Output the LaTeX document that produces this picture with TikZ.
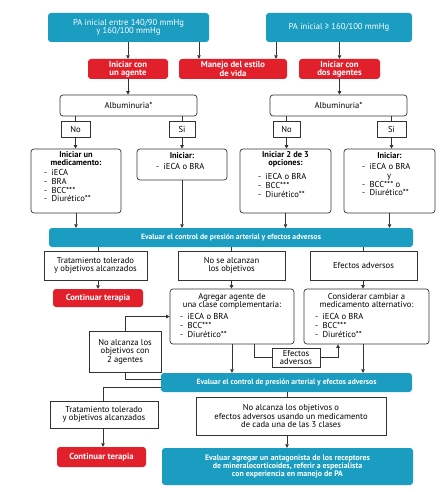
\documentclass[tikz,border=0pt]{standalone}
\usepackage{fontspec}
\setmainfont{PT Sans}
\usetikzlibrary{arrows.meta}
\definecolor{pblue}{HTML}{1B9DC1}
\definecolor{pred}{HTML}{E2202C}
\definecolor{pline}{HTML}{333333}
\begin{document}
\begin{tikzpicture}[x=1pt,y=-1pt,
  sz/.style 2 args={minimum width=#1pt, minimum height=#2pt},
  base/.style={font=\fontsize{8.6}{8.6}\selectfont, inner sep=1pt, align=center},
  bluebox/.style={base, fill=pblue, text=white, rounded corners=3pt},
  bluebar/.style={bluebox, font=\fontsize{7.6}{8.6}\selectfont\bfseries},
  redbox/.style={base, fill=pred, text=white, rounded corners=3pt, font=\fontsize{8.7}{7.8}\selectfont\bfseries},
  rbox/.style={base, draw=pline, line width=0.7pt, rounded corners=3pt},
  sbox/.style={base, draw=pline, line width=0.6pt},
  ttl/.style={font=\fontsize{8.4}{8}\selectfont\bfseries, inner sep=0pt, align=center, anchor=north},
  ttn/.style={font=\fontsize{8.6}{8.2}\selectfont, inner sep=0pt, align=center, anchor=north},
  lst/.style={font=\fontsize{8.6}{8.7}\selectfont, inner sep=0pt, align=left, anchor=north west},
  arr/.style={draw=pline, line width=0.7pt, -{Triangle[length=3.5pt,width=3.5pt]}},
  ln/.style={draw=pline, line width=0.7pt}]
\fill[white] (0,0) rectangle (447,492);
\useasboundingbox (0,0) rectangle (447,492);
% helper coordinates
\coordinate (m1) at (199,0);
\coordinate (m2) at (276,0);
\coordinate (c98) at (98,0);
\coordinate (c363) at (363,0);
\coordinate (c254) at (254,0);
\coordinate (c338) at (338,0);
\coordinate (c287) at (287,0);
\coordinate (c103) at (103,0);
\coordinate (y379) at (0,379);
\coordinate (y387) at (0,387);
% top
\node[bluebox,sz={161}{29}] (tl) at (128.5,27.5) {PA inicial entre 140/90 mmHg\\y 160/100 mmHg};
\node[bluebox,sz={146}{29}] (tr) at (339,27.5) {PA inicial ≥ 160/100 mmHg};
\node[redbox,sz={80}{20}] (r1) at (128,69) {Iniciar con\\un agente};
\node[redbox,sz={108}{20}] (r2) at (233,69) {Manejo del estilo\\de vida};
\node[redbox,sz={81}{20}] (r3) at (339.5,69) {Iniciar con\\dos agentes};
\draw[arr] (tl.south -| r1) -- (r1.north);
\draw[arr] (tl.south -| m1) -- (r2.north -| m1);
\draw[arr] (tr.south -| m2) -- (r2.north -| m2);
\draw[arr] (tr.south -| r3) -- (r3.north);
% albuminuria
\node[rbox,sz={137}{21}] (al) at (128.5,105.5) {Albuminuria*};
\node[rbox,sz={137}{21}] (ar) at (338.5,105.5) {Albuminuria*};
\draw[arr] (r1.south) -- (r1.south |- al.north);
\draw[arr] (r3.south) -- (r3.south |- ar.north);
\node[sbox,sz={29}{16}] (nl) at (75.5,129) {No};
\node[sbox,sz={26}{16}] (sl) at (182,129) {Si};
\node[sbox,sz={27}{16}] (nr) at (286.5,129) {No};
\node[sbox,sz={29}{16}] (sr) at (391.5,129) {Si};
\draw[ln] (al.south -| nl) -- (nl.north);
\draw[ln] (al.south -| sl) -- (sl.north);
\draw[ln] (ar.south -| nr) -- (nr.north);
\draw[ln] (ar.south -| sr) -- (sr.north);
% content boxes
\node[rbox,sz={90}{64}] (ba) at (76,181) {};
\node[rbox,sz={90}{31}] (bb) at (182,164.5) {};
\node[rbox,sz={91}{64}] (bc) at (285.5,181) {};
\node[rbox,sz={91}{64}] (bd) at (389.5,181) {};
\node[ttl] (bat) at (76,151.5) {Iniciar un\\medicamento:};
\node[lst] (bal) at (44,169.5) {-\enspace iECA\\-\enspace BRA\\-\enspace BCC***\\-\enspace Diurético**};
\node[ttl] (bbt) at (182,152.5) {Iniciar:};
\node[lst] (bbl) at (156,163.5) {-\enspace iECA o BRA};
\node[ttl] (bct) at (285.5,151) {Iniciar 2 de 3\\opciones:};
\node[lst] (bcl) at (258,173.5) {-\enspace iECA o BRA\\-\enspace BCC***\\-\enspace Diurético**};
\node[ttl] (bdt) at (389.5,152) {Iniciar:};
\node[lst] (bdl) at (362,163.5) {-\enspace iECA o BRA\\\hspace*{25pt}y\\-\enspace BCC*** o\\-\enspace Diurético**};
\draw[arr] (nl.south) -- (nl.south |- ba.north);
\draw[arr] (sl.south) -- (sl.south |- bb.north);
\draw[arr] (nr.south) -- (nr.south |- bc.north);
\draw[arr] (sr.south) -- (sr.south |- bd.north);
% first evaluation
\node[bluebar,sz={364}{19}] (bar1) at (231,237.5) {Evaluar el control de presión arterial y efectos adversos};
\draw[arr] (ba.south) -- (ba.south |- bar1.north);
\draw[arr] (bb.south) -- (bb.south |- bar1.north);
\draw[arr] (bc.south) -- (bc.south |- bar1.north);
\draw[arr] (bd.south) -- (bd.south |- bar1.north);
\node[sbox,sz={103}{29}] (t1) at (95.5,265.5) {Tratamiento tolerado\\y objetivos alcanzados};
\node[sbox,sz={107}{29}] (n1) at (231.5,265.5) {No se alcanzan\\los objetivos};
\node[sbox,sz={107}{29}] (e1) at (363.5,265.5) {Efectos adversos};
\draw[ln] (bar1.south -| c98) -- (t1.north -| c98);
\draw[ln] (bar1.south -| n1) -- (n1.north);
\draw[ln] (bar1.south -| c363) -- (e1.north -| c363);
\node[redbox,sz={90}{18}] (cont1) at (98,298) {Continuar terapia};
\draw[arr] (t1.south -| c98) -- (cont1.north);
\node[rbox,sz={124}{55}] (ag) at (232,316.5) {};
\node[rbox,sz={125}{55}] (co) at (366.5,316.5) {};
\node[ttn] (agt) at (232,293) {Agregar agente de\\una clase complementaria:};
\node[lst] (agl) at (180,313.5) {-\enspace iECA o BRA\\-\enspace BCC***\\-\enspace Diurético**};
\node[ttn] (cot) at (366.5,293) {Considerar cambiar a\\medicamento alternativo:};
\node[lst] (col) at (315,313.5) {-\enspace iECA o BRA\\-\enspace BCC***\\-\enspace Diurético**};
\draw[arr] (n1.south) -- (n1.south |- ag.north);
\draw[arr] (e1.south -| c363) -- (co.north -| c363);
% middle loop
\node[sbox,sz={72}{41}] (na2) at (125,351.5) {No alcanza los\\objetivos con\\2 agentes};
\node[sbox,sz={48}{19}] (ef2) at (296,357.5) {Efectos\\adversos};
\node[bluebar,sz={251}{19}] (bar2) at (286.5,382.5) {Evaluar el control de presión arterial y efectos adversos};
\draw[arr] (na2.north) |- (ag.west);
\draw[ln] (bar2.west |- y379) -| (na2.south);
\draw[arr] (ag.south) -- (ag.south |- bar2.north);
\draw[ln] (ag.south -| c254) |- (ef2.west);
\draw[arr] (ef2.east) -| (co.south -| c338);
\draw[arr] (co.south -| c363) -- (bar2.north -| c363);
% bottom
\node[sbox,sz={108}{27}] (t2) at (104,414.5) {Tratamiento tolerado\\y objetivos alcanzados};
\node[sbox,sz={190}{38}] (na3) at (291,416) {No alcanza los objetivos o\\efectos adversos usando un medicamento\\de cada una de las 3 clases};
\node[redbox,sz={89}{20}] (cont2) at (101.5,457) {Continuar terapia};
\node[bluebar,sz={251}{37},font=\fontsize{7.9}{8.4}\selectfont\bfseries] (fin) at (287.5,466.5) {Evaluar agregar un antagonista de los receptores\\de mineralocorticoides, referir a especialista\\con experiencia en manejo de PA};
\draw[ln] (bar2.west |- y387) -| (t2.north -| c103);
\draw[arr] (t2.south -| c103) -- (cont2.north -| c103);
\draw[ln] (bar2.south -| c287) -- (na3.north -| c287);
\draw[arr] (na3.south -| c287) -- (fin.north -| c287);
\end{tikzpicture}
\end{document}
